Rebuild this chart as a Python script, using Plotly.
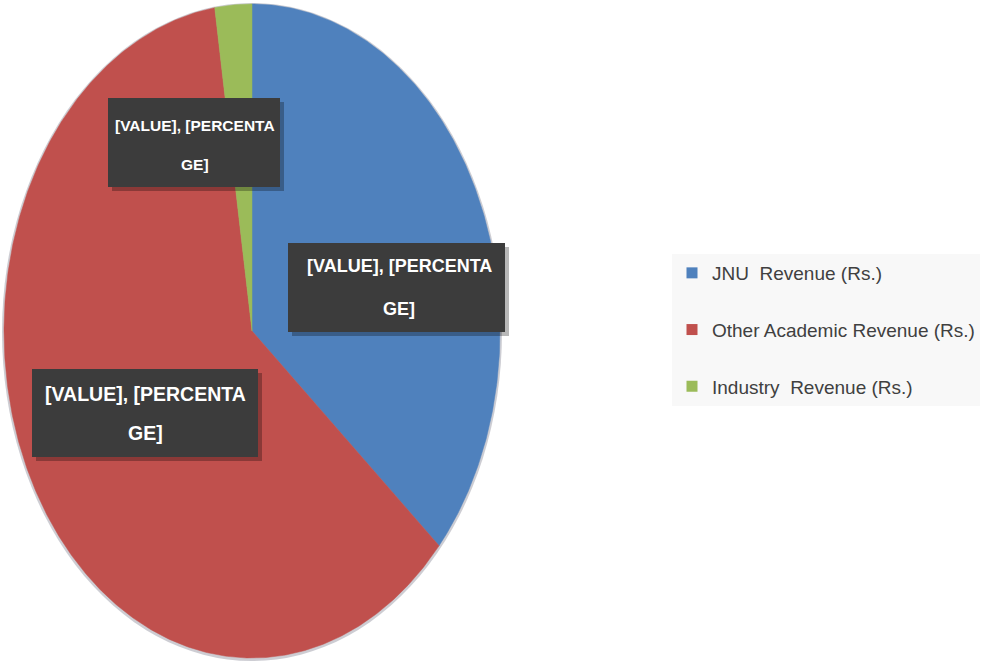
import numpy as np
import plotly.graph_objects as go

# Revenue split (share of total, %), clockwise from 12 o'clock
categories = ["JNU  Revenue (Rs.)", "Other Academic Revenue (Rs.)", "Industry  Revenue (Rs.)"]
shares = [36.4, 61.2, 2.4]
colors = ["#4f81bd", "#c0504d", "#9bbb59"]
label_lines = ["[VALUE], [PERCENTA", "GE]"]

W, H = 985, 663
# pie geometry in pixel space (elliptical pie)
cx, cy, rx, ry = 252, 331, 248, 327

fig = go.Figure()

# soft rim behind the pie
fig.add_shape(type="circle", xref="x", yref="y",
              x0=cx - rx - 2, x1=cx + rx + 2, y0=cy - ry - 1, y1=cy + ry + 3,
              fillcolor="rgba(90,90,110,0.30)", line=dict(width=0), layer="below")

total = sum(shares)
start = 0.0
for name, val, col in zip(categories, shares, colors):
    end = start + val / total * 360.0
    n = max(int((end - start) * 2), 4)
    theta = np.radians(np.linspace(start, end, n))
    xs = np.concatenate([[cx], cx + rx * np.sin(theta), [cx]])
    ys = np.concatenate([[cy], cy - ry * np.cos(theta), [cy]])
    fig.add_trace(go.Scatter(x=xs, y=ys, mode="lines", fill="toself",
                             fillcolor=col, line=dict(width=0.5, color=col),
                             hoverinfo="text", text=f"{name}: {val}%",
                             showlegend=False))
    start = end

# legend entries
for i, (name, col) in enumerate(zip(categories, colors)):
    fig.add_trace(go.Scatter(x=[None], y=[None], mode="markers", name=name,
                             legendgroup=f"g{i}",
                             marker=dict(symbol="square", size=11, color=col)))

# data-label boxes: (left, right, top, bottom, text centre x, line1 y, line2 y, font size)
label_boxes = [
    (108, 280, 98, 187, 195, 125, 164, 15.5),    # Industry
    (288, 505, 243, 332, 399, 266, 309, 18),     # JNU
    (32, 258, 369, 457, 145, 394, 433, 19.5),    # Other Academic
]
label_font = "Liberation Sans, Arial, sans-serif"
for (x0, x1, y0, y1, tx, ly1, ly2, fs) in label_boxes:
    # drop shadow
    fig.add_shape(type="rect", xref="x", yref="y",
                  x0=x0 + 4, x1=x1 + 4, y0=y0 + 4, y1=y1 + 4,
                  fillcolor="rgba(0,0,0,0.28)", line=dict(width=0))
    fig.add_shape(type="rect", xref="x", yref="y",
                  x0=x0, x1=x1, y0=y0, y1=y1,
                  fillcolor="#3c3c3c", line=dict(width=0))
    for line, ly in zip(label_lines, (ly1, ly2)):
        fig.add_annotation(x=tx, y=ly, xref="x", yref="y", text=f"<b>{line}</b>",
                           showarrow=False, align="center",
                           font=dict(family=label_font, size=fs, color="white"))

fig.update_layout(
    width=W, height=H,
    margin=dict(l=0, r=0, t=0, b=0, autoexpand=False),
    paper_bgcolor="white", plot_bgcolor="white",
    xaxis=dict(range=[0, W], visible=False, fixedrange=True),
    yaxis=dict(range=[H, 0], visible=False, fixedrange=True),
    showlegend=True,
    legend=dict(x=672 / W, y=1 - 254 / H, xanchor="left", yanchor="top",
                bgcolor="#f8f8f8", borderwidth=0,
                font=dict(family=label_font, size=19, color="#404040"),
                tracegroupgap=29, itemwidth=30,
                traceorder="grouped"),
)

fig.write_html("out.html")
